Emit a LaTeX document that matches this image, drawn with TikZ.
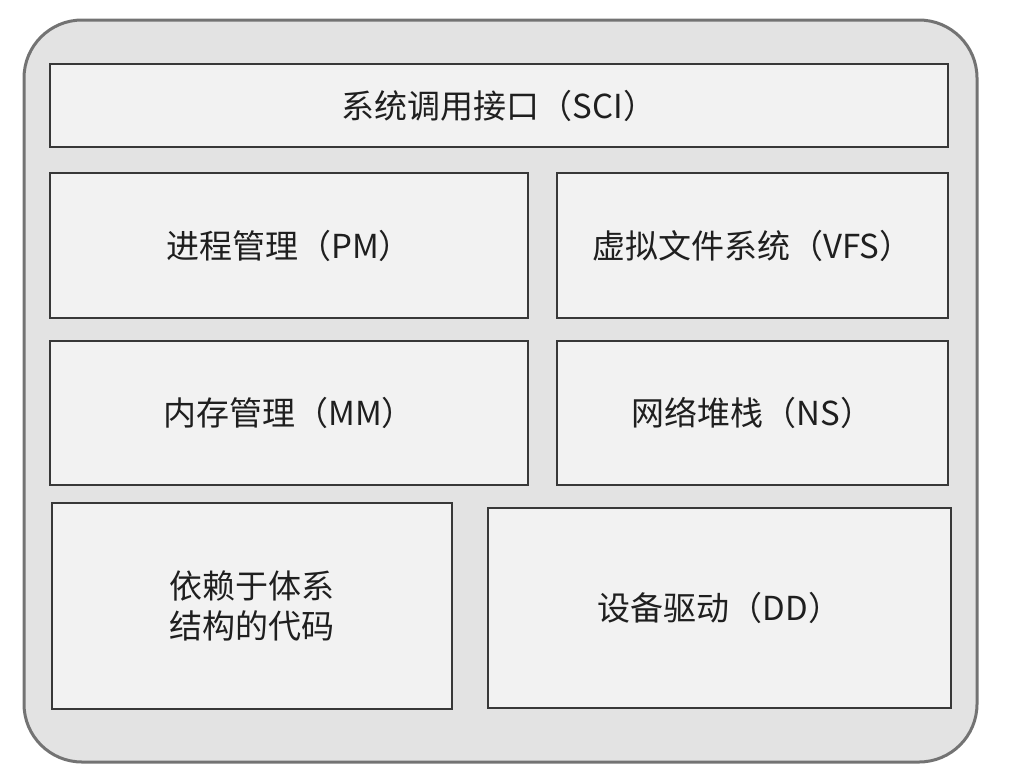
\documentclass[tikz,border=0pt]{standalone}
\usepackage{fontspec}
\newfontfamily\cjk{Noto Sans CJK SC}
\usepackage{tikz}
\usetikzlibrary{shadows}

\begin{document}
\begin{tikzpicture}[x=1pt,y=-1pt,
    layer/.style={draw=black!78,line width=1.8pt,fill=black!5,rectangle,inner sep=0pt,
      font=\cjk\fontsize{33}{40}\selectfont,text=black!88,
      drop shadow={shadow xshift=1pt,shadow yshift=-1pt,opacity=.35,fill=black!60}}]
  \useasboundingbox (0,0) rectangle (1014,782);
  \draw[draw=black!55,line width=3pt,fill=black!11,rounded corners=58pt] (24,20) rectangle (977,762);
  \node[layer,minimum width=898pt,minimum height=83pt] (sci) at (499,105.5) {系统调用接口（SCI）};
  \node[layer,minimum width=478pt,minimum height=145pt] (pm) at (289,245.5) {进程管理（PM）};
  \node[layer,minimum width=391pt,minimum height=145pt] (vfs) at (752.5,245.5) {虚拟文件系统（VFS）};
  \node[layer,minimum width=478pt,minimum height=144pt] (mm) at (289,413) {内存管理（MM）};
  \node[layer,minimum width=391pt,minimum height=144pt] (ns) at (752.5,413) {网络堆栈（NS）};
  \node[layer,minimum width=400pt,minimum height=206pt,align=left] (arch) at (252,606) {依赖于体系\\结构的代码};
  \node[layer,minimum width=463pt,minimum height=200pt] (dd) at (719.5,608) {设备驱动（DD）};
\end{tikzpicture}
\end{document}
